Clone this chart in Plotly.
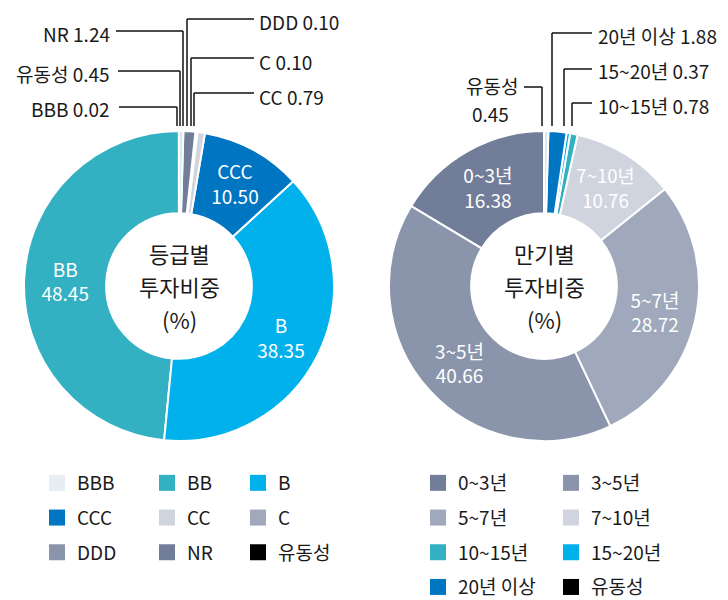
import plotly.graph_objects as go

W, H = 728, 600
FONT = "Noto Sans CJK KR"
TXT = "#1a1a1a"

# ---------------- data ----------------
grade_labels = ["BBB", "BB", "B", "CCC", "CC", "C", "DDD", "NR", "유동성"]
grade_values = [0.02, 48.45, 38.35, 10.50, 0.79, 0.10, 0.10, 1.24, 0.45]
grade_colors = ["#E8ECF3", "#34B0C3", "#00B1EB", "#0075C1", "#D0D4DF",
                "#A0A8BC", "#8A94AB", "#727E99", "#000000"]
grade_slice_colors = ["#E8ECF3", "#34B0C3", "#00B1EB", "#0075C1", "#D0D4DF",
                      "#A0A8BC", "#8A94AB", "#727E99", "#D6E8F5"]
grade_inside = ["BB", "B", "CCC"]

mat_labels = ["0~3년", "3~5년", "5~7년", "7~10년", "10~15년", "15~20년", "20년 이상", "유동성"]
mat_values = [16.38, 40.66, 28.72, 10.76, 0.78, 0.37, 1.88, 0.45]
mat_colors = ["#727E99", "#8A94AB", "#A0A8BC", "#D0D4DF", "#34B0C3",
              "#00B1EB", "#0075C1", "#000000"]
mat_slice_colors = ["#727E99", "#8A94AB", "#A0A8BC", "#D0D4DF", "#34B0C3",
                    "#00B1EB", "#0075C1", "#D6E8F5"]
mat_inside = ["0~3년", "3~5년", "5~7년", "7~10년"]

grade_center = ["등급별", "투자비중", "(%)"]
mat_center = ["만기별", "투자비중", "(%)"]


def X(px):
    return px / W


def Y(py):
    return 1 - py / H


fig = go.Figure()

# ---------------- pies ----------------
R = 155
for labels, values, colors, inside, cx in [
    (grade_labels, grade_values, grade_slice_colors, grade_inside, 179),
    (mat_labels, mat_values, mat_slice_colors, mat_inside, 544),
]:
    cy = 286
    # first slice sits just left of 12 o'clock, rest continue counterclockwise
    rot = -values[0] / sum(values) * 360
    fig.add_trace(go.Pie(
        labels=labels, values=values, sort=False, direction="counterclockwise",
        rotation=rot, hole=0.47,
        marker=dict(colors=colors, line=dict(color="white", width=2)),
        texttemplate="%{label}<br>%{value:.2f}",
        textposition=["inside" if l in inside else "none" for l in labels],
        insidetextorientation="horizontal",
        insidetextfont=dict(family=FONT, size=19, color="white"),
        domain=dict(x=[X(cx - R), X(cx + R)], y=[Y(cy + R), Y(cy - R)]),
        showlegend=False, hoverinfo="label+value",
    ))

# ---------------- legends (dummy marker traces) ----------------
def add_legend_entries(labels, colors, ncols, prefix, start_idx):
    for i, (lab, col) in enumerate(zip(labels, colors)):
        c = i % ncols
        lname = "legend" if start_idx + c == 1 else f"legend{start_idx + c}"
        fig.add_trace(go.Scatter(
            x=[None], y=[None], mode="markers",
            marker=dict(symbol="square", size=16, color=col),
            name=lab, legend=lname, legendgroup=f"{prefix}{i}",
            showlegend=True, hoverinfo="skip",
        ))


add_legend_entries(grade_labels, grade_colors, 3, "g", 1)
add_legend_entries(mat_labels, mat_colors, 2, "m", 4)

leg_common = dict(
    xref="paper", yref="paper", xanchor="left", yanchor="top",
    orientation="v", traceorder="grouped", tracegroupgap=7,
    font=dict(family=FONT, size=19, color=TXT),
    bgcolor="rgba(0,0,0,0)", borderwidth=0, itemclick=False, itemdoubleclick=False,
)
leg_cols_px = [37, 147, 238, 418, 551]
legends = {}
for k, xp in enumerate(leg_cols_px, start=1):
    name = "legend" if k == 1 else f"legend{k}"
    legends[name] = dict(leg_common, x=X(xp), y=Y(464))

# ---------------- callouts ----------------
annotations = []
shapes = []


def line(x0, y0, x1, y1):
    shapes.append(dict(type="line", xref="paper", yref="paper",
                       x0=X(x0), y0=Y(y0), x1=X(x1), y1=Y(y1),
                       line=dict(color="#111", width=1.5)))


def label(text, x, y, anchor):
    annotations.append(dict(text=text, x=X(x), y=Y(y), xref="paper", yref="paper",
                            xanchor=anchor, yanchor="middle", showarrow=False,
                            font=dict(family=FONT, size=19, color=TXT)))


gv = dict(zip(grade_labels, grade_values))
mv = dict(zip(mat_labels, mat_values))
LINE_END = 126

# left pie - left side
for name, ly, x0, vx in [("NR", 31, 116, 183), ("유동성", 71, 118, 180), ("BBB", 107, 119, 177)]:
    label(f"{name} {gv[name]:.2f}", 112, ly + 2, "right")
    line(x0, ly, vx, ly)
    line(vx, ly, vx, LINE_END)
# left pie - right side
for name, ly, vx in [("DDD", 19, 187), ("C", 58, 191), ("CC", 93, 194)]:
    label(f"{name} {gv[name]:.2f}", 257, ly + 3, "left")
    line(vx, ly, 254, ly)
    line(vx, ly, vx, LINE_END)
# right pie - right side
for name, ly, vx in [("20년 이상", 33, 552), ("15~20년", 69, 564), ("10~15년", 103, 572)]:
    label(f"{name} {mv[name]:.2f}", 596, ly + 2, "left")
    line(vx, ly, 592, ly)
    line(vx, ly, vx, LINE_END)
# right pie - 유동성
label("유동성", 492, 86, "center")
label(f"{mv['유동성']:.2f}", 490, 114, "center")
line(524, 87, 542, 87)
line(542, 87, 542, LINE_END)

# ---------------- center texts ----------------
for lines_, cx in [(grade_center, 179), (mat_center, 544)]:
    for t, cyy in zip(lines_, [253, 286, 319]):
        annotations.append(dict(text=t, x=X(cx), y=Y(cyy), xref="paper", yref="paper",
                                xanchor="center", yanchor="middle", showarrow=False,
                                font=dict(family=FONT, size=22, color=TXT)))

fig.update_layout(
    width=W, height=H, margin=dict(l=0, r=0, t=0, b=0, autoexpand=False),
    paper_bgcolor="white", plot_bgcolor="white",
    xaxis=dict(visible=False), yaxis=dict(visible=False),
    annotations=annotations, shapes=shapes,
    font=dict(family=FONT),
    **legends,
)

fig.write_html("out.html", post_script="document.body.style.margin='0px';",
               config={"displayModeBar": False})
